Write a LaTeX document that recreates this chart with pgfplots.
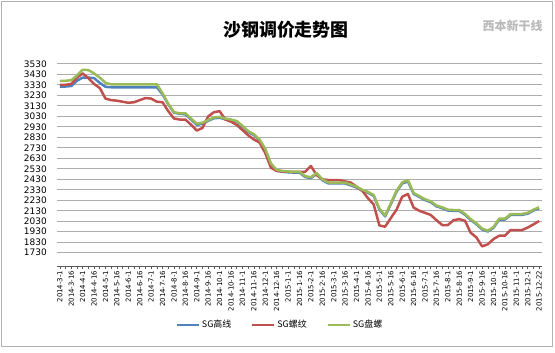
\documentclass[border=0pt]{standalone}
\usepackage{pgfplots}
\usepackage{pgfplotstable}
\pgfplotsset{compat=1.18}
\usepackage{fontspec}
\setmainfont{DejaVu Sans}
\newfontfamily\cjk{Noto Sans CJK SC}
\definecolor{sgblue}{HTML}{4F81BD}
\definecolor{sgred}{HTML}{C0504D}
\definecolor{sggreen}{HTML}{9BBB59}

\pgfplotstableread{
i G B R
0 3368 3313 3330
1 3370 3315 3332
2 3375 3320 3340
3 3420 3370 3400
4 3475 3400 3440
5 3472 3400 3395
6 3440 3395 3340
7 3400 3350 3300
8 3350 3312 3200
9 3336 3308 3185
10 3336 3308 3180
11 3336 3308 3170
12 3336 3308 3160
13 3336 3308 3165
14 3336 3308 3185
15 3336 3308 3205
16 3336 3308 3200
17 3336 3308 3170
18 3250 3240 3165
19 3150 3145 3080
20 3070 3065 3010
21 3060 3055 3000
22 3060 3050 3000
23 3010 3000 2950
24 2960 2950 2895
25 2970 2960 2920
26 2995 2988 3030
27 3020 3012 3070
28 3025 3018 3080
29 3010 3002 3000
30 3000 2992 2980
31 2986 2980 2948
32 2940 2932 2900
33 2890 2882 2850
34 2860 2852 2810
35 2810 2802 2780
36 2720 2710 2680
37 2580 2570 2540
38 2520 2512 2510
39 2510 2502 2505
40 2505 2497 2502
41 2502 2494 2502
42 2502 2494 2502
43 2460 2452 2502
44 2450 2442 2557
45 2490 2482 2470
46 2430 2422 2430
47 2400 2392 2423
48 2398 2390 2423
49 2398 2390 2423
50 2398 2390 2410
51 2380 2372 2398
52 2360 2352 2360
53 2330 2322 2320
54 2310 2302 2250
55 2280 2272 2190
56 2150 2142 1990
57 2085 2077 1978
58 2200 2192 2060
59 2320 2312 2140
60 2400 2390 2264
61 2423 2410 2290
62 2300 2292 2160
63 2270 2262 2130
64 2240 2232 2110
65 2220 2212 2090
66 2180 2172 2040
67 2163 2155 1994
68 2140 2132 1994
69 2137 2129 2040
70 2137 2129 2050
71 2100 2092 2035
72 2050 2042 1920
73 2010 2002 1876
74 1960 1952 1790
75 1940 1932 1810
76 1975 1967 1860
77 2054 2046 1892
78 2054 2046 1892
79 2099 2091 1946
80 2099 2091 1946
81 2099 2091 1946
82 2110 2102 1970
83 2140 2132 2000
84 2163 2155 2032
}\sgdata

\begin{document}
\begin{tikzpicture}[x=1bp,y=1bp]
\useasboundingbox (0,0) rectangle (555,352);
\draw[gray!60, line width=0.8bp] (1.5,5.5) rectangle (552,350.5);
\node[font=\cjk\fontsize{18}{21}\selectfont\bfseries] at (286,322) {沙钢调价走势图};
\node[font=\cjk\fontsize{12}{14}\selectfont\bfseries\itshape, text=gray!55, anchor=east] at (546,326) {西本新干线};
\begin{axis}[
  at={(57bp,86bp)}, anchor=south west,
  scale only axis, width=485bp, height=206bp,
  xmin=-0.5, xmax=84.5, ymin=1603, ymax=3568,
  axis x line=bottom, axis y line=left,
  x axis line style={-, draw=gray!70!black, line width=0.8bp},
  y axis line style={draw=none},
  ytick={1730,1830,...,3530},
  ymajorgrids, major grid style={gray!65, line width=1bp},
  xtick={0,2,...,84},
  minor xtick={1,3,...,83},
  tick align=outside,
  major tick length=3bp, minor tick length=3bp,
  ytick style={draw=none},
  xtick style={gray!70!black, line width=0.6bp},
  minor tick style={gray!70!black, line width=0.6bp},
  xticklabels={2014-3-1,2014-3-16,2014-4-1,2014-4-16,2014-5-1,2014-5-16,2014-6-1,2014-6-16,2014-7-1,2014-7-16,2014-8-1,2014-8-16,2014-9-1,2014-9-16,2014-10-1,2014-10-16,2014-11-1,2014-11-16,2014-12-1,2014-12-16,2015-1-1,2015-1-16,2015-2-1,2015-2-16,2015-3-1,2015-3-16,2015-4-1,2015-4-16,2015-5-1,2015-5-16,2015-6-1,2015-6-16,2015-7-1,2015-7-16,2015-8-1,2015-8-16,2015-9-1,2015-9-16,2015-10-1,2015-10-16,2015-11-1,2015-12-1,2015-12-22},
  xticklabel style={rotate=90, anchor=east, font=\fontsize{7}{8}\selectfont, inner sep=1.5bp},
  yticklabel style={font=\fontsize{9}{10}\selectfont, inner sep=1bp, xshift=-6bp},
  /pgf/number format/1000 sep={},
  /pgf/number format/assume math mode=true,
  legend columns=3,
  legend style={at={(0.46,-0.286)}, anchor=center, draw=none, fill=none,
    font=\cjk\fontsize{9}{10}\selectfont,
    /tikz/every even column/.append style={column sep=18bp}},
  legend image code/.code={\draw[#1, line width=2bp] (0bp,0bp) -- (22bp,0bp);},
]
\addplot[sgblue, line width=2.5bp, line join=round] table[x=i, y=B] {\sgdata};
\addlegendentry{SG高线}
\addplot[sgred, line width=2.5bp, line join=round] table[x=i, y=R] {\sgdata};
\addlegendentry{SG螺纹}
\addplot[sggreen, line width=2.5bp, line join=round] table[x=i, y=G] {\sgdata};
\addlegendentry{SG盘螺}
\end{axis}
\end{tikzpicture}
\end{document}
